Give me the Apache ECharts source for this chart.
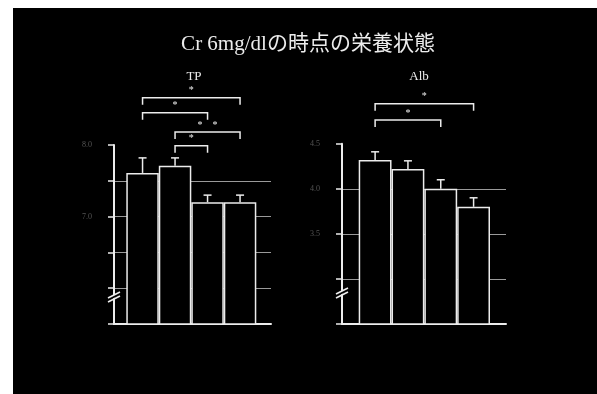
<!DOCTYPE html>
<html><head><meta charset="utf-8">
<script src="https://cdn.jsdelivr.net/npm/echarts@6/dist/echarts.min.js"></script>
<style>
html,body{margin:0;padding:0;background:#fff;width:597px;height:394px;overflow:hidden}
#c{position:absolute;left:13px;top:8px;width:584px;height:386px;background:#000}
</style></head>
<body><div id="c"></div>
<script>
// ---- data ----
const categories = ['1', '2', '3', '4'];
const tpMean  = [7.61, 7.71, 7.20, 7.20];
const tpUpper = [7.82, 7.82, 7.30, 7.30];
const albMean  = [4.32, 4.22, 4.00, 3.80];
const albUpper = [4.41, 4.31, 4.10, 3.90];
const tpTickLabels  = { '7': '7.0', '8': '8.0' };
const albTickLabels = { '3.5': '3.5', '4': '4.0', '4.5': '4.5' };
// brackets: [fromIndex, toIndex, height(value)]
const tpBrackets  = [[0, 3, 8.66], [0, 2, 8.45], [1, 3, 8.18], [1, 2, 7.99]];
const tpBracketMarks = ['*', '*', '*    *', '*'];
const albBrackets = [[0, 3, 4.944], [0, 2, 4.763]];
const albBracketMarks = ['*', '*'];
const tpRange  = { min: 5.5, max: 8.0, interval: 0.5, breakAt: 5.877 };
const albRange = { min: 2.5, max: 4.5, interval: 0.5, breakAt: 2.844 };
const titleText = 'Cr 6mg/dlの時点の栄養状態';
const panelTitles = ['TP', 'Alb'];

// ---- styling ----
const WHITE = '#ececec';
const GRIDC = '#9a9a9a';
const SERIF = '"Liberation Serif","DejaVu Serif","Noto Sans CJK JP",serif';

const chart = echarts.init(document.getElementById('c'), null, { renderer: 'canvas' });

function valueAxisVisible(gi, r, labels) {
  return {
    type: 'value', gridIndex: gi, min: r.min, max: r.max, interval: r.interval,
    axisLine: { show: true, lineStyle: { color: WHITE, width: 2 } },
    axisTick: { show: true, length: 6, lineStyle: { color: WHITE, width: 1.5 } },
    splitLine: { show: true, showMaxLine: false, lineStyle: { color: GRIDC, width: 1 } },
    axisLabel: {
      show: true, color: '#555', fontSize: 8, margin: 22, fontFamily: SERIF,
      formatter: v => labels[String(v)] || ''
    }
  };
}
function valueAxisHidden(gi, r) {
  return { type: 'value', gridIndex: gi, min: r.min, max: r.max, interval: r.interval, show: false };
}
function xAxisLine(gi) {
  return {
    type: 'value', gridIndex: gi, min: 0, max: 1,
    axisLine: { show: true, onZero: false, lineStyle: { color: WHITE, width: 2 } },
    axisTick: { show: false }, axisLabel: { show: false }, splitLine: { show: false }
  };
}
function xAxisCat(gi) {
  return { type: 'category', gridIndex: gi, data: categories, show: false, boundaryGap: true };
}

function barSeries(xi, yi, data) {
  return {
    type: 'bar', xAxisIndex: xi, yAxisIndex: yi, data: data, barWidth: '100%', barCategoryGap: '0%',
    itemStyle: { color: '#000', borderColor: WHITE, borderWidth: 1.5 }, z: 3, silent: true
  };
}
function errSeries(xi, yi, mean, upper) {
  return {
    type: 'custom', xAxisIndex: xi, yAxisIndex: yi, z: 4, silent: true,
    data: mean.map((m, i) => [i, m, upper[i]]),
    encode: { x: 0, y: [1, 2] },
    renderItem: (p, api) => {
      const a = api.coord([api.value(0), api.value(1)]);
      const b = api.coord([api.value(0), api.value(2)]);
      const st = { stroke: WHITE, lineWidth: 1.5 };
      return { type: 'group', children: [
        { type: 'line', shape: { x1: a[0], y1: a[1], x2: b[0], y2: b[1] }, style: st },
        { type: 'line', shape: { x1: b[0] - 4, y1: b[1], x2: b[0] + 4, y2: b[1] }, style: st }
      ]};
    }
  };
}
function bracketSeries(xi, yi, brackets, marks) {
  return {
    type: 'custom', xAxisIndex: xi, yAxisIndex: yi, z: 4, silent: true, clip: false,
    data: brackets, encode: { x: 0, y: 2 },
    renderItem: (p, api) => {
      const a = api.coord([api.value(0), api.value(2)]);
      const b = api.coord([api.value(1), api.value(2)]);
      const leg = 7;
      return { type: 'group', children: [
        { type: 'polyline', shape: { points: [[a[0], a[1] + leg], [a[0], a[1]], [b[0], b[1]], [b[0], b[1] + leg]] },
          style: { stroke: WHITE, lineWidth: 1.5, fill: null } },
        { type: 'text', style: { x: (a[0] + b[0]) / 2, y: a[1] - 7, text: marks[p.dataIndex],
          fill: WHITE, fontSize: 10, align: 'center', verticalAlign: 'middle', fontFamily: SERIF } }
      ]};
    }
  };
}
function breakSeries(xi, yi, r) {
  return {
    type: 'custom', xAxisIndex: xi, yAxisIndex: yi, z: 5, silent: true, clip: false,
    data: [[0, r.breakAt]], encode: { x: 0, y: 1 },
    renderItem: (p, api) => {
      const c = api.coord([api.value(0), api.value(1)]);
      const st = { stroke: WHITE, lineWidth: 1.8 };
      return { type: 'group', children: [
        { type: 'polygon', shape: { points: [[c[0] - 6, c[1] + 4], [c[0] + 6, c[1] - 2], [c[0] + 6, c[1] - 5], [c[0] - 6, c[1] + 1]] },
          style: { fill: '#000' } },
        { type: 'line', shape: { x1: c[0] - 6, y1: c[1] + 5, x2: c[0] + 6, y2: c[1] - 1 }, style: st },
        { type: 'line', shape: { x1: c[0] - 6, y1: c[1] + 1, x2: c[0] + 6, y2: c[1] - 5 }, style: st }
      ]};
    }
  };
}

chart.setOption({
  backgroundColor: '#000',
  animation: false,
  title: [
    { text: titleText, left: 290, top: 21, textAlign: 'center',
      textStyle: { color: WHITE, fontSize: 21, fontWeight: 'normal', fontFamily: SERIF } },
    { text: panelTitles[0], left: 176, top: 57, textAlign: 'center',
      textStyle: { color: WHITE, fontSize: 13, fontWeight: 'normal', fontFamily: SERIF } },
    { text: panelTitles[1], left: 401, top: 57, textAlign: 'center',
      textStyle: { color: WHITE, fontSize: 13, fontWeight: 'normal', fontFamily: SERIF } }
  ],
  grid: [
    { left: 101, top: 137, width: 157, height: 179 },
    { left: 113.3, top: 137, width: 130, height: 179 },
    { left: 329, top: 135.7, width: 164, height: 180.3 },
    { left: 345.7, top: 135.7, width: 131.3, height: 180.3 }
  ],
  xAxis: [xAxisLine(0), xAxisCat(1), xAxisLine(2), xAxisCat(3)],
  yAxis: [
    valueAxisVisible(0, tpRange, tpTickLabels), valueAxisHidden(1, tpRange),
    valueAxisVisible(2, albRange, albTickLabels), valueAxisHidden(3, albRange)
  ],
  series: [
    barSeries(1, 1, tpMean), errSeries(1, 1, tpMean, tpUpper), bracketSeries(1, 1, tpBrackets, tpBracketMarks),
    breakSeries(0, 0, tpRange),
    barSeries(3, 3, albMean), errSeries(3, 3, albMean, albUpper), bracketSeries(3, 3, albBrackets, albBracketMarks),
    breakSeries(2, 2, albRange)
  ]
});
</script>
</body></html>
